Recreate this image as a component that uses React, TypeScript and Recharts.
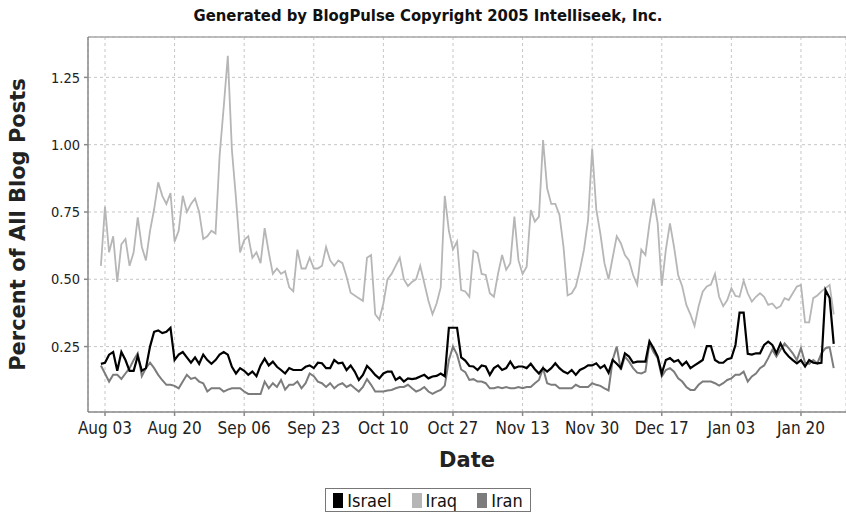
import React from 'react';
import { LineChart, Line, XAxis, YAxis, CartesianGrid, Legend, ReferenceLine, Label } from 'recharts';

// Daily values, starting 2005-08-02 (day 0) through 2006-01-28 (day 179)
const ISRAEL = [
  0.186, 0.19, 0.22, 0.23, 0.16, 0.23, 0.20, 0.16, 0.16, 0.215, 0.16, 0.17, 0.25, 0.305, 0.31, 0.30, 0.305, 0.32, 0.20, 0.22, 0.23, 0.21, 0.19, 0.21, 0.186, 0.22, 0.20, 0.186, 0.20, 0.22,
  0.23, 0.22, 0.175, 0.15, 0.17, 0.16, 0.145, 0.157, 0.14, 0.18, 0.205, 0.18, 0.194, 0.175, 0.163, 0.15, 0.17, 0.163, 0.163, 0.163, 0.175, 0.18, 0.17, 0.19, 0.188, 0.17, 0.17, 0.20, 0.188, 0.19,
  0.163, 0.18, 0.157, 0.126, 0.145, 0.178, 0.163, 0.145, 0.132, 0.15, 0.157, 0.157, 0.126, 0.136, 0.12, 0.132, 0.129, 0.132, 0.139, 0.145, 0.132, 0.139, 0.141, 0.15, 0.14, 0.32, 0.32, 0.32, 0.21, 0.198,
  0.178, 0.176, 0.163, 0.18, 0.176, 0.145, 0.17, 0.18, 0.163, 0.17, 0.194, 0.17, 0.176, 0.176, 0.17, 0.186, 0.166, 0.15, 0.17, 0.157, 0.17, 0.188, 0.17, 0.157, 0.15, 0.163, 0.145, 0.163, 0.17, 0.18,
  0.18, 0.188, 0.17, 0.18, 0.153, 0.20, 0.186, 0.17, 0.225, 0.213, 0.19, 0.194, 0.194, 0.194, 0.27, 0.244, 0.213, 0.15, 0.20, 0.207, 0.194, 0.20, 0.18, 0.194, 0.17, 0.18, 0.19, 0.20, 0.252, 0.252,
  0.20, 0.19, 0.19, 0.203, 0.207, 0.256, 0.376, 0.376, 0.223, 0.22, 0.225, 0.225, 0.256, 0.268, 0.256, 0.225, 0.262, 0.231, 0.213, 0.20, 0.188, 0.20, 0.176, 0.20, 0.19, 0.188, 0.19, 0.46, 0.43, 0.26,
];

const IRAQ = [
  0.55, 0.77, 0.60, 0.66, 0.49, 0.63, 0.65, 0.55, 0.60, 0.73, 0.62, 0.57, 0.68, 0.76, 0.86, 0.81, 0.78, 0.82, 0.64, 0.68, 0.81, 0.75, 0.78, 0.80, 0.75, 0.65, 0.66, 0.68, 0.67, 0.96,
  1.14, 1.33, 0.98, 0.80, 0.60, 0.646, 0.66, 0.58, 0.60, 0.56, 0.69, 0.60, 0.52, 0.54, 0.52, 0.53, 0.47, 0.455, 0.61, 0.54, 0.54, 0.58, 0.54, 0.54, 0.55, 0.62, 0.57, 0.55, 0.57, 0.56,
  0.51, 0.45, 0.44, 0.43, 0.42, 0.58, 0.59, 0.37, 0.35, 0.41, 0.50, 0.52, 0.55, 0.58, 0.50, 0.475, 0.49, 0.50, 0.55, 0.485, 0.42, 0.37, 0.41, 0.47, 0.81, 0.68, 0.61, 0.64, 0.46, 0.455,
  0.435, 0.606, 0.597, 0.52, 0.516, 0.448, 0.435, 0.52, 0.59, 0.535, 0.56, 0.733, 0.57, 0.52, 0.547, 0.757, 0.714, 0.733, 1.017, 0.838, 0.78, 0.78, 0.74, 0.62, 0.44, 0.448, 0.473, 0.535, 0.61, 0.72,
  0.986, 0.76, 0.67, 0.56, 0.50, 0.58, 0.66, 0.634, 0.59, 0.57, 0.516, 0.48, 0.61, 0.59, 0.708, 0.80, 0.708, 0.476, 0.61, 0.708, 0.62, 0.516, 0.473, 0.405, 0.37, 0.327, 0.40, 0.454, 0.473, 0.48,
  0.52, 0.435, 0.40, 0.423, 0.467, 0.438, 0.435, 0.495, 0.448, 0.417, 0.435, 0.448, 0.435, 0.405, 0.41, 0.392, 0.40, 0.43, 0.423, 0.448, 0.473, 0.479, 0.34, 0.34, 0.43, 0.44, 0.455, 0.467, 0.479, 0.37,
];

const IRAN = [
  0.18, 0.15, 0.12, 0.145, 0.145, 0.13, 0.15, 0.17, 0.20, 0.225, 0.14, 0.17, 0.19, 0.17, 0.145, 0.125, 0.108, 0.108, 0.104, 0.095, 0.12, 0.145, 0.13, 0.135, 0.12, 0.114, 0.083, 0.095, 0.095, 0.095,
  0.083, 0.09, 0.095, 0.095, 0.095, 0.083, 0.074, 0.074, 0.074, 0.074, 0.12, 0.095, 0.114, 0.10, 0.126, 0.09, 0.108, 0.108, 0.12, 0.095, 0.114, 0.15, 0.14, 0.12, 0.114, 0.10, 0.114, 0.095, 0.108, 0.114,
  0.10, 0.108, 0.095, 0.083, 0.10, 0.129, 0.108, 0.083, 0.083, 0.083, 0.087, 0.089, 0.095, 0.10, 0.10, 0.108, 0.095, 0.083, 0.089, 0.10, 0.083, 0.074, 0.083, 0.089, 0.105, 0.20, 0.25, 0.22, 0.165, 0.155,
  0.126, 0.129, 0.12, 0.12, 0.114, 0.095, 0.095, 0.10, 0.095, 0.10, 0.095, 0.095, 0.10, 0.095, 0.10, 0.10, 0.114, 0.126, 0.17, 0.114, 0.108, 0.108, 0.095, 0.095, 0.095, 0.095, 0.108, 0.10, 0.10, 0.10,
  0.114, 0.108, 0.104, 0.095, 0.087, 0.20, 0.25, 0.163, 0.213, 0.194, 0.17, 0.153, 0.15, 0.157, 0.262, 0.23, 0.207, 0.139, 0.163, 0.17, 0.157, 0.132, 0.12, 0.10, 0.089, 0.089, 0.108, 0.12, 0.12, 0.12,
  0.114, 0.105, 0.114, 0.126, 0.132, 0.145, 0.145, 0.157, 0.12, 0.139, 0.15, 0.17, 0.18, 0.207, 0.238, 0.213, 0.238, 0.262, 0.244, 0.225, 0.20, 0.244, 0.19, 0.186, 0.20, 0.188, 0.225, 0.244, 0.248, 0.17,
];

const TICK_DAYS = [1, 18, 35, 52, 69, 86, 103, 120, 137, 154, 171];
const TICK_LABELS = ['Aug 03', 'Aug 20', 'Sep 06', 'Sep 23', 'Oct 10', 'Oct 27', 'Nov 13', 'Nov 30', 'Dec 17', 'Jan 03', 'Jan 20'];
const Y_TICKS = [0.25, 0.5, 0.75, 1.0, 1.25];
const SERIES_NAMES = ['Israel', 'Iraq', 'Iran'];

const TITLE = 'Generated by BlogPulse Copyright 2005 Intelliseek, Inc.';
const X_TITLE = 'Date';
const Y_TITLE = 'Percent of All Blog Posts';

const data = ISRAEL.map((v, i) => ({ day: i, Israel: v, Iraq: IRAQ[i], Iran: IRAN[i] }));

const COLORS: Record<string, string> = { Israel: '#000000', Iraq: '#b6b6b6', Iran: '#7c7c7c' };
const FONT = '"DejaVu Sans Condensed", "DejaVu Sans", sans-serif';
const FONT_WIDE = '"DejaVu Sans", sans-serif';

const renderLegend = () => (
  <div style={{ display: 'flex', justifyContent: 'center', paddingLeft: 10 }}>
    <div
      style={{
        display: 'flex',
        alignItems: 'center',
        border: '1px solid #777',
        padding: '2px 7px 2px 7px',
        height: 18,
        fontFamily: FONT,
        fontStretch: 'condensed',
        fontSize: 18,
        color: '#111',
      }}
    >
      {SERIES_NAMES.map((n, i) => (
        <div key={n} style={{ display: 'flex', alignItems: 'center', marginLeft: i === 0 ? 0 : 20 }}>
          <div style={{ width: 10, height: 15, background: COLORS[n], marginRight: 4 }} />
          <span>{n}</span>
        </div>
      ))}
    </div>
  </div>
);

export default function App() {
  return (
    <div style={{ position: 'absolute', left: 0, top: 0, width: 846, height: 519, background: '#fff', overflow: 'hidden' }}>
      <LineChart width={846} height={519} data={data} margin={{ top: 37, right: 0, bottom: 53, left: 0 }}>
        <CartesianGrid strokeDasharray="3 3" stroke="#c6c6c6" />
        <ReferenceLine y={1.4} stroke="#a8a8a8" strokeWidth={1.5} ifOverflow="visible" />
        <XAxis
          dataKey="day"
          type="number"
          domain={[-3.15, 182]}
          allowDataOverflow
          ticks={TICK_DAYS}
          tickFormatter={(d: number) => TICK_LABELS[TICK_DAYS.indexOf(d)]}
          interval={0}
          height={30}
          stroke="#8a8a8a"
          strokeWidth={1.5}
          tickSize={4}
          tickMargin={6}
          tick={{ fontSize: 17, fill: '#222', fontFamily: FONT, style: { fontStretch: 'condensed' } }}
        >
          <Label
            value={X_TITLE}
            position="bottom"
            offset={10}
            style={{ fontSize: 21, fontWeight: 'bold', fill: '#222', fontFamily: FONT_WIDE }}
          />
        </XAxis>
        <YAxis
          type="number"
          domain={[0.007, 1.4]}
          allowDataOverflow
          ticks={Y_TICKS}
          tickFormatter={(v: number) => v.toFixed(2)}
          interval={0}
          width={88}
          stroke="#8a8a8a"
          strokeWidth={1.5}
          tickSize={4}
          tickMargin={4}
          tick={{ fontSize: 14.5, fill: '#222', fontFamily: FONT, style: { fontStretch: 'condensed' } }}
        >
          <Label
            value={Y_TITLE}
            angle={-90}
            position="insideLeft"
            offset={18}
            style={{ textAnchor: 'middle', fontSize: 21, fontWeight: 'bold', fill: '#222', fontFamily: FONT_WIDE }}
          />
        </YAxis>
        <Legend content={renderLegend} wrapperStyle={{ top: 488, left: 0, width: 846 }} />
        <Line type="linear" dataKey="Iran" stroke={COLORS.Iran} strokeWidth={2} dot={false} isAnimationActive={false} />
        <Line type="linear" dataKey="Iraq" stroke={COLORS.Iraq} strokeWidth={1.8} dot={false} isAnimationActive={false} />
        <Line type="linear" dataKey="Israel" stroke={COLORS.Israel} strokeWidth={2.2} dot={false} isAnimationActive={false} />
      </LineChart>
      <div
        style={{
          position: 'absolute',
          top: 6,
          left: 0,
          width: 856,
          textAlign: 'center',
          fontFamily: FONT,
          fontStretch: 'condensed',
          fontWeight: 'bold',
          fontSize: 16.5,
          color: '#111',
        }}
      >
        {TITLE}
      </div>
    </div>
  );
}
